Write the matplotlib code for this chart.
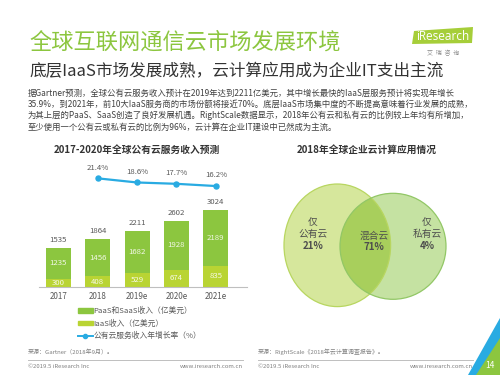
import matplotlib
matplotlib.use("Agg")
import matplotlib.pyplot as plt
from matplotlib.patches import Ellipse, Polygon
from matplotlib.lines import Line2D
from matplotlib.patches import Patch

plt.rcParams['font.family'] = ['Noto Sans CJK SC', 'DejaVu Sans']

# ---------------- data ----------------
years = ["2017", "2018", "2019e", "2020e", "2021e"]
paas_saas = [1235, 1456, 1682, 1928, 2189]
iaas = [300, 408, 529, 674, 835]
totals = [1535, 1864, 2211, 2602, 3024]
growth_years = ["2018", "2019e", "2020e", "2021e"]
growth = [21.4, 18.6, 17.7, 16.2]

venn_labels = ["仅\n公有云", "混合云", "仅\n私有云"]
venn_values = [21, 71, 4]

title = "全球互联网通信云市场发展环境"
subtitle = "底层IaaS市场发展成熟，云计算应用成为企业IT支出主流"
paragraph = [
    "据Gartner预测，全球公有云服务收入预计在2019年达到2211亿美元，其中增长最快的IaaS层服务预计将实现年增长",
    "35.9%，到2021年，前10大IaaS服务商的市场份额将接近70%。底层IaaS市场集中度的不断提高意味着行业发展的成熟，",
    "为其上层的PaaS、SaaS创造了良好发展机遇。RightScale数据显示，2018年公有云和私有云的比例较上年均有所增加，",
    "至少使用一个公有云或私有云的比例为96%，云计算在企业IT建设中已然成为主流。",
]
bar_title = "2017-2020年全球公有云服务收入预测"
venn_title = "2018年全球企业云计算应用情况"
legend_labels = ["PaaS和SaaS收入（亿美元）", "IaaS收入（亿美元）", "公有云服务收入年增长率（%）"]

W, H = 500, 375
GREEN = "#8cc63f"
C_UP = "#8cc63f"
C_LOW = "#b9d433"
C_LINE = "#29abe2"
GRAY = "#595959"

fig = plt.figure(figsize=(5, 3.75), dpi=100)

def fx(x):
    return x / W

def fy(y):
    return 1 - y / H

def axes_px(x0, y0, x1, y1, **kw):
    return fig.add_axes([fx(x0), fy(y1), (x1 - x0) / W, (y1 - y0) / H], **kw)

# ---------------- header ----------------
fig.text(fx(29), fy(42), title, fontsize=16, color=GREEN, va="center", ha="left")
fig.text(fx(29), fy(71.5), subtitle, fontsize=12, color="#333333", va="center", ha="left")
for i, line in enumerate(paragraph):
    fig.text(fx(28), fy(93 + 11.4 * i), line, fontsize=6.0, color="#404040", va="center", ha="left")

# logo
logo = Polygon([[fx(412), fy(44)], [fx(414), fy(31)], [fx(473), fy(27)], [fx(472), fy(43)]],
               closed=True, transform=fig.transFigure, facecolor="#a6ce39", edgecolor="none")
fig.patches.append(logo)
fig.text(fx(443), fy(37), "iResearch", fontsize=8.5, color="white", ha="center", va="center",
         family=["Open Sans", "DejaVu Sans"])
fig.text(fx(443), fy(53), "艾  瑞  咨  询", fontsize=4.3, color="#8c8c8c", ha="center", va="center")

# ---------------- bar chart ----------------
fig.text(fx(137), fy(150), bar_title, fontsize=7, fontweight="bold", color="#333333",
         ha="center", va="center")

ax = axes_px(38.6, 140, 247.4, 286.7)
x = list(range(len(years)))
ax.bar(x, iaas, width=0.63, color=C_LOW, zorder=2)
ax.bar(x, paas_saas, width=0.63, bottom=iaas, color=C_UP, zorder=2)
ax.set_xlim(-0.5, 4.8)
ax.set_ylim(0, 146.7 * 39.4)
for i in x:
    ax.text(i, totals[i] + 160, f"{totals[i]}", ha="center", va="bottom", fontsize=5.6, color=GRAY)
    ax.text(i, iaas[i] + paas_saas[i] / 2, f"{paas_saas[i]}", ha="center", va="center",
            fontsize=5.6, color="#f2f7e6")
    ax.text(i, iaas[i] / 2, f"{iaas[i]}", ha="center", va="center", fontsize=5.6, color="#f7f9e8")
ax.set_xticks(x)
ax.set_xticklabels(years, fontsize=5.8, color=GRAY)
ax.tick_params(axis="x", length=0, pad=4)
ax.set_yticks([])
for s in ["top", "right", "left"]:
    ax.spines[s].set_visible(False)
ax.spines["bottom"].set_color("#bfbfbf")
ax.spines["bottom"].set_linewidth(0.8)
ax.patch.set_alpha(0)

ax2 = ax.twinx()
gx = [years.index(g) for g in growth_years]
ax2.plot(gx, growth, color=C_LINE, lw=1.6, marker="o", ms=3.6, zorder=3)
ax2.set_ylim(-51.8, 47.3)
for xi, v in zip(gx, growth):
    ax2.text(xi, v + 4.6, f"{v}%", ha="center", va="bottom", fontsize=5.6, color=GRAY)
ax2.set_yticks([])
for s in ["top", "right", "left", "bottom"]:
    ax2.spines[s].set_visible(False)

handles = [Patch(color=C_UP), Patch(color=C_LOW),
           Line2D([0], [0], color=C_LINE, lw=1.4, marker="o", ms=3)]
fig.legend(handles, legend_labels, loc="upper left", bbox_to_anchor=(fx(78), fy(307)),
           frameon=False, fontsize=5.6, labelcolor=GRAY, handlelength=1.9, handleheight=0.45,
           handletextpad=0.1, labelspacing=0.55, borderaxespad=0, borderpad=0)

# ---------------- venn ----------------
fig.text(fx(367), fy(150), venn_title, fontsize=7, fontweight="bold", color="#333333",
         ha="center", va="center")
vax = axes_px(270, 170, 470, 320)
vax.set_xlim(270, 470)
vax.set_ylim(320, 170)
vax.axis("off")
left = Ellipse((337.3, 245.3), 106.6, 122.6, facecolor="#d6e79c", edgecolor="none")
right = Ellipse((393, 246.3), 106, 106, facecolor="#c5e2a2", edgecolor="none")
vax.add_patch(left)
vax.add_patch(right)
inter = Ellipse((393, 246.3), 106, 106, facecolor="#a8cf5c", edgecolor="none")
vax.add_patch(inter)
inter.set_clip_path(left)
vax.add_patch(Ellipse((337.3, 245.3), 106.6, 122.6, facecolor="none", edgecolor="#b8d660", lw=0.9))
vax.add_patch(Ellipse((393, 246.3), 106, 106, facecolor="none", edgecolor="#92c766", lw=0.9))

pos = [(313, 239.5), (374, 241), (427, 239.5)]
for (px, py), lab, val in zip(pos, venn_labels, venn_values):
    vax.text(px, py, lab, ha="center", va="bottom", fontsize=7, color="#4d4d4d", linespacing=1.3)
    vax.text(px, py + 1.5, f"{val}%", ha="center", va="top", fontsize=7, fontweight="bold",
             color="#4d4d4d")

# ---------------- footer ----------------
fig.text(fx(28), fy(352), "来源：Gartner（2018年9月）。", fontsize=4.3, color="#808080", va="center")
fig.text(fx(258), fy(352), "来源：RightScale《2018年云计算调查报告》。", fontsize=4.3, color="#808080", va="center")
for x0, x1 in [(28, 243), (258, 473)]:
    fig.add_artist(Line2D([fx(x0), fx(x1)], [fy(360), fy(360)], color="#bfbfbf", lw=0.7,
                          transform=fig.transFigure))
    fig.text(fx(x0), fy(367), "©2019.5 iResearch Inc", fontsize=4.3, color="#808080", va="center")
    fig.text(fx(x1), fy(367), "www.iresearch.com.cn", fontsize=4.3, color="#808080", va="center",
             ha="right")

blue = Polygon([[fx(500), fy(318)], [fx(500), fy(342)], [fx(479), fy(375)], [fx(468), fy(375)]],
               closed=True, transform=fig.transFigure, facecolor="#29abe2", edgecolor="none")
green = Polygon([[fx(500), fy(338)], [fx(500), fy(375)], [fx(476), fy(375)]],
                closed=True, transform=fig.transFigure, facecolor="#8cc63f", edgecolor="none")
fig.patches.extend([blue, green])
fig.text(fx(490), fy(366), "14", fontsize=6, color="white", ha="center", va="center")

fig.savefig("out.png", dpi=100, facecolor="white")
